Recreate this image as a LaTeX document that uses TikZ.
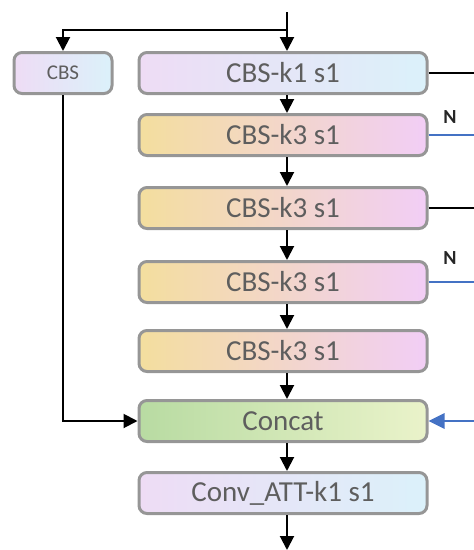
\documentclass[tikz,border=0pt]{standalone}
\usepackage{fontspec}
\setmainfont{Carlito}
\usetikzlibrary{arrows.meta,positioning}
\definecolor{boxedge}{HTML}{969696}
\definecolor{txtgray}{HTML}{5E5E5E}
\definecolor{lavend}{HTML}{EEDCF5}
\definecolor{skyish}{HTML}{DBF1FA}
\definecolor{sandy}{HTML}{F3DE9E}
\definecolor{pinkish}{HTML}{F2CEF6}
\definecolor{leafy}{HTML}{B8DBA2}
\definecolor{paleleaf}{HTML}{EAF3CA}
\definecolor{linkblue}{HTML}{4472C4}
\tikzset{
  x=1pt, y=-1pt,
  block/.style={draw=boxedge, line width=3pt, rounded corners=8pt,
    minimum width=288pt, minimum height=41pt, inner sep=0pt,
    font=\fontsize{29}{31}\selectfont, text=txtgray},
  cool/.style={block, left color=lavend, right color=skyish},
  warm/.style={block, left color=sandy, right color=pinkish},
  green/.style={block, left color=leafy, right color=paleleaf},
  flow/.style={line width=2pt, -{Triangle[length=14pt,width=14pt]}},
  plain/.style={line width=2pt},
  bluelink/.style={line width=2pt, draw=linkblue},
  tag/.style={font=\fontsize{20}{21}\selectfont\bfseries, text=black!85, inner sep=0pt}
}
\begin{document}
\begin{tikzpicture}
\useasboundingbox (0,0) rectangle (474,550);

% main column
\node[cool]  (k1)  at (283,73)  {CBS-k1 s1};
\node[warm]  (k3a) at (283,135) {CBS-k3 s1};
\node[warm]  (k3b) at (283,208) {CBS-k3 s1};
\node[warm]  (k3c) at (283,282) {CBS-k3 s1};
\node[warm]  (k3d) at (283,351) {CBS-k3 s1};
\node[green] (cat) at (283,421) {Concat};
\node[cool]  (att) at (283,493) {Conv\_ATT-k1 s1};

% side branch
\node[cool, minimum width=98pt, font=\fontsize{21}{23}\selectfont] (cbs) at (63,73) {CBS};

% input and split
\coordinate (in)    at (287,12);
\coordinate (split) at (287,30);
\coordinate (turn)  at (63,30);
\draw[plain] (in) -- (split);
\draw[flow] (split) -- (k1.north -| split);
\draw[flow] (split) -- (turn) -- (cbs.north);

% vertical chain
\draw[flow] (k1.south -| split)  -- (k3a.north -| split);
\draw[flow] (k3a.south -| split) -- (k3b.north -| split);
\draw[flow] (k3b.south -| split) -- (k3c.north -| split);
\draw[flow] (k3c.south -| split) -- (k3d.north -| split);
\draw[flow] (k3d.south -| split) -- (cat.north -| split);
\draw[flow] (cat.south -| split) -- (att.north -| split);
\coordinate (out) at (287,550);
\draw[flow] (att.south -| split) -- (out);

% side branch into concat
\coordinate (low) at (63,421);
\draw[flow] (cbs.south) -- (low) -- (cat.west);

% outgoing taps on the right
\coordinate (r1) at (474,73);
\coordinate (r2) at (474,135);
\coordinate (r3) at (474,208);
\coordinate (r4) at (474,282);
\coordinate (r5) at (474,421);
\draw[plain] (k1.east) -- (r1);
\draw[bluelink] (k3a.east) -- (r2);
\draw[plain] (k3b.east) -- (r3);
\draw[bluelink] (k3c.east) -- (r4);
\draw[bluelink, line width=2.8pt, -{Triangle[length=16pt,width=15pt]}] (r5) -- (cat.east);
\node[tag] (n1) at (450,117) {N};
\node[tag] (n2) at (450,258) {N};
\end{tikzpicture}
\end{document}
